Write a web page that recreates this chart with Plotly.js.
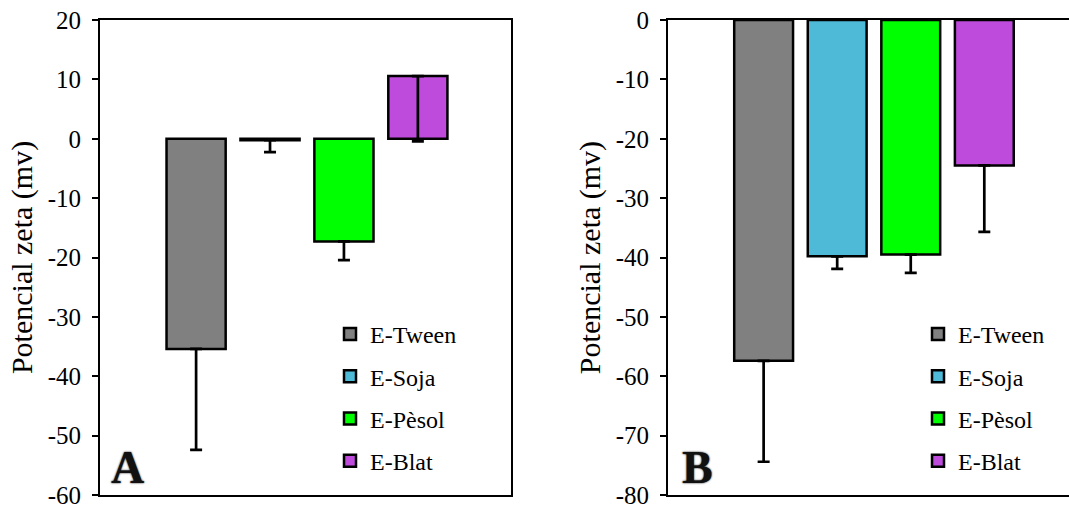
<!DOCTYPE html>
<html><head><meta charset="utf-8">
<script src="https://cdn.plot.ly/plotly-3.0.1.min.js"></script>
<style>html,body{margin:0;padding:0;overflow:hidden;background:#fff}</style>
</head><body><div id="chart" style="width:1077px;height:520px"></div>
<script>
const categories = ['E-Tween', 'E-Soja', 'E-Pèsol', 'E-Blat'];
const valuesA = [-35.4, -0.25, -17.3, 10.55];
const errorsA = [17.0, 2.0, 3.15, 11.0];
const valuesB = [-57.4, -39.8, -39.5, -24.5];
const errorsB = [17.0, 2.1, 3.1, 11.2];
const colors = ['#808080', '#4FBAD8', '#00FF00', '#BE4BDB'];
const tickValsA = [-60, -50, -40, -30, -20, -10, 0, 10, 20];
const tickTextA = ['-60', '-50', '-40', '-30', '-20', '-10', '0', '10', '20'];
const tickValsB = [-80, -70, -60, -50, -40, -30, -20, -10, 0];
const tickTextB = ['-80', '-70', '-60', '-50', '-40', '-30', '-20', '-10', '0'];
const yTitle = 'Potencial zeta (mv)';

const FONT = 'Liberation Serif, Times New Roman, serif';
const W = 1077, H = 520;

const traces = [];
function addPanel(values, errors, xa, ya, leg, tag) {
  categories.forEach((c, i) => {
    traces.push({
      type: 'bar', name: c, x: [c], y: [values[i]],
      xaxis: xa, yaxis: ya, legend: leg, legendgroup: tag + i,
      width: 0.8,
      marker: {color: colors[i], line: {color: '#000', width: 2.5}},
      error_y: {type: 'data', symmetric: false, array: [0], arrayminus: [errors[i]],
                color: '#000', thickness: 2.7, width: 6},
      hoverinfo: 'skip'
    });
  });
}
addPanel(valuesA, errorsA, 'x', 'y', 'legend', 'a');
addPanel(valuesB, errorsB, 'x2', 'y2', 'legend2', 'b');

const yDom = [1 - 495 / H, 1 - 20 / H];
function xAxis(dom) {
  return {domain: dom, range: [-1.3, 4.26], type: 'category', categoryorder: 'array', categoryarray: categories,
    showline: true, mirror: true, linecolor: '#000', linewidth: 2,
    showticklabels: false, ticks: '', showgrid: false, zeroline: false, fixedrange: true};
}
function yAxis(range, tv, tt, anchor) {
  return {domain: yDom, range: range, anchor: anchor, tickvals: tv, ticktext: tt,
    ticks: 'outside', ticklen: 6, tickwidth: 2, tickcolor: '#000', ticklabelstandoff: 6,
    showline: true, mirror: true, linecolor: '#000', linewidth: 2,
    showgrid: false, zeroline: false, fixedrange: true,
    tickfont: {family: FONT, size: 25, color: '#000'},
    title: {text: yTitle, standoff: 6, font: {family: FONT, size: 30, color: '#000'}}};
}
const legendBase = {
  yanchor: 'top', y: 1 - 312 / H, xanchor: 'left',
  font: {family: FONT, size: 24, color: '#000'},
  bgcolor: 'rgba(0,0,0,0)', borderwidth: 0, tracegroupgap: 8, traceorder: 'grouped'
};

const layout = {
  width: W, height: H, margin: {l: 0, r: 0, t: 0, b: 0},
  paper_bgcolor: '#fff', plot_bgcolor: '#fff',
  font: {family: FONT, color: '#000'},
  barmode: 'overlay', showlegend: true,
  xaxis: Object.assign(xAxis([100 / W, 511 / W]), {anchor: 'y'}),
  yaxis: yAxis([-60, 20], tickValsA, tickTextA, 'x'),
  xaxis2: Object.assign(xAxis([668 / W, 1]), {anchor: 'y2'}),
  yaxis2: yAxis([-80, 0], tickValsB, tickTextB, 'x2'),
  legend: Object.assign({}, legendBase, {x: 330 / W}),
  legend2: Object.assign({}, legendBase, {x: 918 / W}),
  annotations: [
    {text: '<b>A</b>', xref: 'x domain', yref: 'y domain', x: 0.068, y: 0.057,
     xanchor: 'center', yanchor: 'middle', showarrow: false,
     font: {family: FONT, size: 46, color: '#111', shadow: '0px 0px 2px #000'}},
    {text: '<b>B</b>', xref: 'x2 domain', yref: 'y2 domain', x: 0.071, y: 0.057,
     xanchor: 'center', yanchor: 'middle', showarrow: false,
     font: {family: FONT, size: 46, color: '#111', shadow: '0px 0px 2px #000'}}
  ]
};

Plotly.newPlot('chart', traces, layout, {displayModeBar: false, staticPlot: true});
</script></body></html>
